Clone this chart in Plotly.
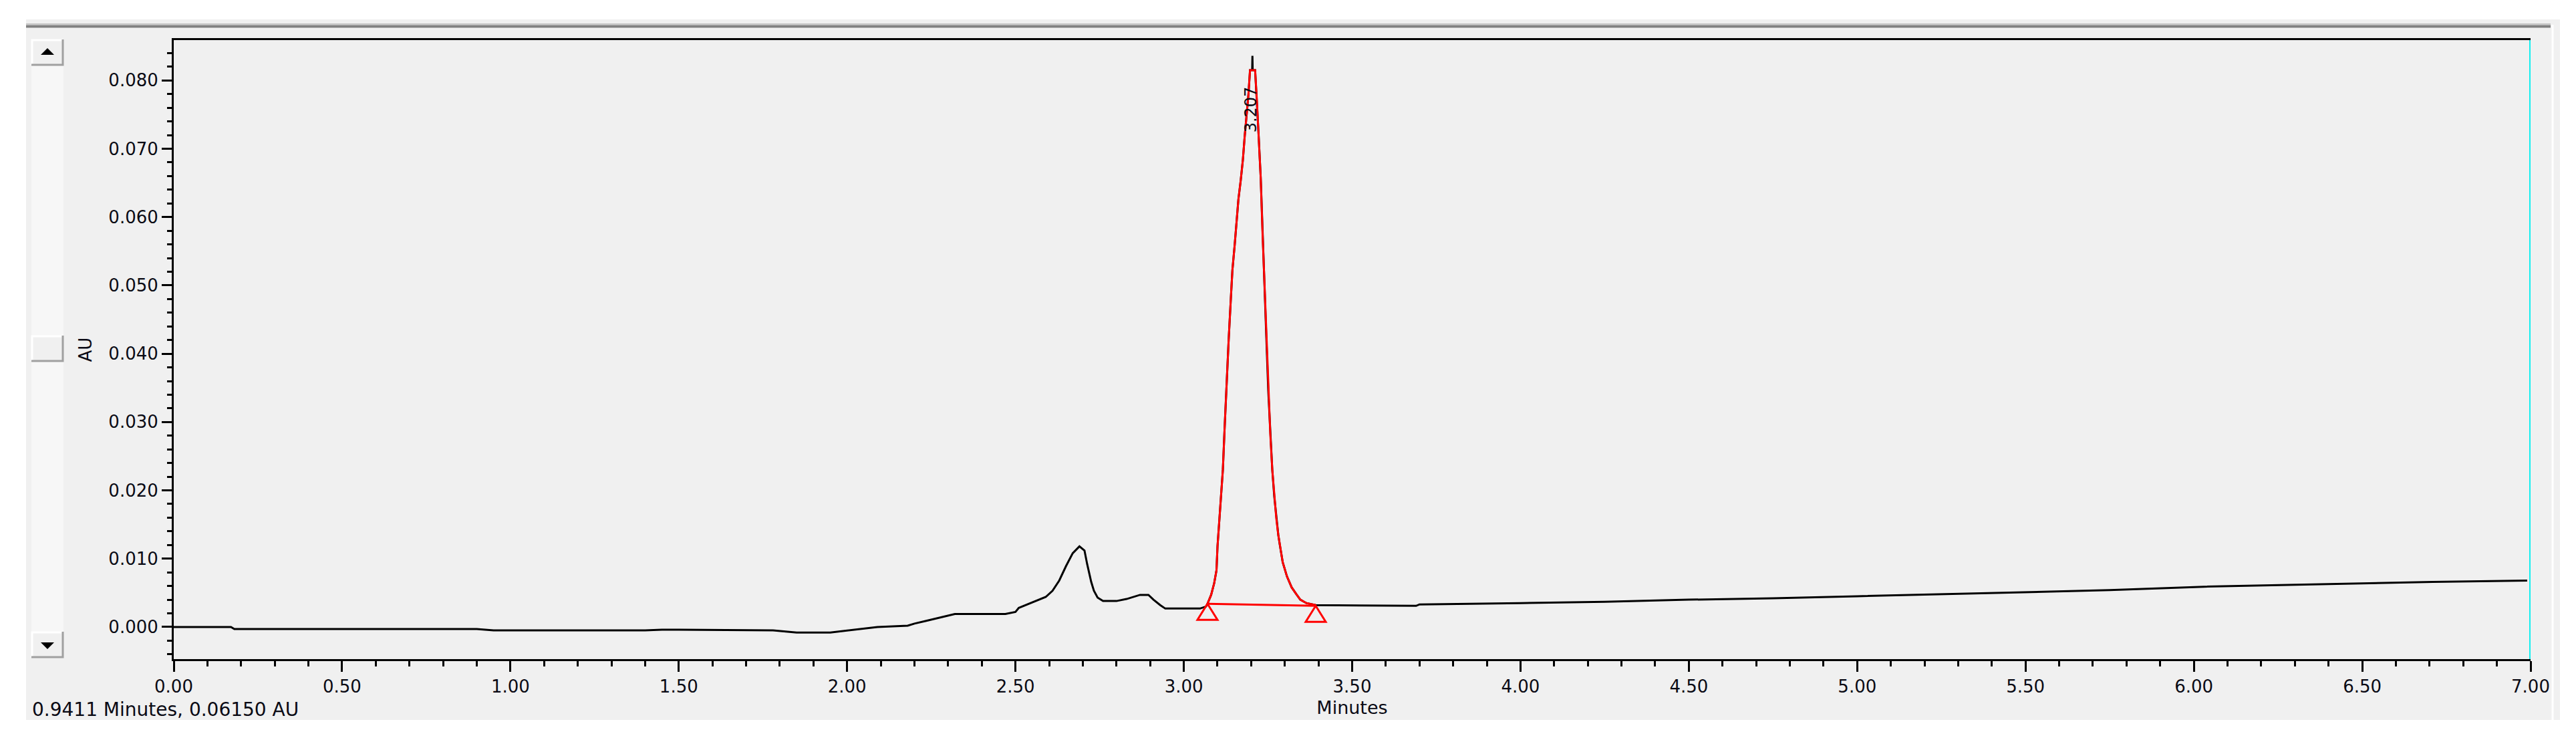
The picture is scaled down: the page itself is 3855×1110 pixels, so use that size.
import plotly.graph_objects as go

pre_peak_min = [0.00, 0.17, 0.18, 0.90, 0.95, 1.40, 1.45, 1.50, 1.78, 1.85, 1.95, 2.00,
                2.06, 2.09, 2.18, 2.20, 2.235, 2.26, 2.29, 2.32, 2.47, 2.50, 2.51, 2.54,
                2.56, 2.59, 2.61, 2.63, 2.65, 2.67, 2.69, 2.705, 2.713, 2.725, 2.733,
                2.744, 2.76, 2.80, 2.83, 2.87, 2.895, 2.91, 2.93, 2.945, 3.048, 3.066]
pre_peak_au = [0.0000, 0.0000, -0.0003, -0.0003, -0.0005, -0.0005, -0.0004, -0.0004,
               -0.0005, -0.0008, -0.0008, -0.0005, -0.0002, 0.0000, 0.0002, 0.0005,
               0.0009, 0.0012, 0.0016, 0.0019, 0.0019, 0.0022, 0.0028, 0.0034, 0.0038,
               0.0044, 0.0053, 0.0068, 0.0089, 0.0108, 0.0118, 0.0112, 0.0092, 0.0066,
               0.0053, 0.0043, 0.0038, 0.0038, 0.0041, 0.0047, 0.0047, 0.0040, 0.0032,
               0.0027, 0.0027, 0.0030]

# integrated peak (drawn red)
peak_min = [3.0703, 3.0812, 3.0902, 3.0971, 3.1001, 3.1041, 3.1094, 3.1160, 3.1213,
            3.1273, 3.1332, 3.1392, 3.1443, 3.1511, 3.1570, 3.1622, 3.1689, 3.1755,
            3.1808, 3.1868, 3.1919, 3.1967, 3.2118, 3.2165, 3.2217, 3.2284, 3.2336,
            3.2396, 3.2455, 3.2509, 3.2568, 3.2628, 3.2687, 3.2747, 3.2806, 3.2846,
            3.2937, 3.3064, 3.3203, 3.3342, 3.3461, 3.3640, 3.3868, 3.3918]
peak_au = [0.0034, 0.0047, 0.0064, 0.0083, 0.0118, 0.0144, 0.0181, 0.0230, 0.0292,
           0.0360, 0.0420, 0.0476, 0.0522, 0.0559, 0.0593, 0.0626, 0.0653, 0.0684,
           0.0718, 0.0749, 0.0779, 0.0815, 0.0815, 0.0775, 0.0725, 0.0658, 0.0580,
           0.0499, 0.0418, 0.0345, 0.0283, 0.0230, 0.0191, 0.0159, 0.0135, 0.0122,
           0.0095, 0.0074, 0.0058, 0.0048, 0.0040, 0.0035, 0.0033, 0.0032]

# raw detector tip poking out above the red peak
apex_min = [3.2030, 3.2038, 3.2046]
apex_au = [0.0815, 0.0836, 0.0815]

post_peak_min = [3.69, 3.70, 4.00, 4.25, 4.50, 4.75, 5.00, 5.25, 5.50, 5.75, 6.03,
                 6.23, 6.48, 6.71, 6.99]
post_peak_au = [0.0031, 0.0033, 0.0035, 0.0037, 0.0040, 0.0042, 0.0045, 0.0048,
                0.0051, 0.0054, 0.0059, 0.0061, 0.0064, 0.0066, 0.0068]

baseline_min = [3.0703, 3.3918]
baseline_au = [0.0034, 0.0031]

peak_label = "3.207"
peak_label_min = 3.207
cursor_min = 7.0
status_text = "0.9411 Minutes, 0.06150 AU"

FONT = "DejaVu Sans"
TXT = "#0a0a14"

# plot area in screen pixels, used to place the window chrome around it
PL, PR, PT, PB = 260, 3787, 60, 986


def fx(px):
    return (px - PL) / (PR - PL)


def fy(py):
    return (PB - py) / (PB - PT)


raw = sorted(zip(pre_peak_min + peak_min + apex_min + post_peak_min,
                 pre_peak_au + peak_au + apex_au + post_peak_au))
raw_min = [p[0] for p in raw]
raw_au = [p[1] for p in raw]

fig = go.Figure()
fig.add_trace(go.Scatter(x=raw_min, y=raw_au, mode="lines",
                         line=dict(color="black", width=3), hoverinfo="skip"))
fig.add_trace(go.Scatter(x=peak_min, y=peak_au, mode="lines",
                         line=dict(color="#ff0000", width=3), hoverinfo="skip"))
fig.add_trace(go.Scatter(x=baseline_min, y=baseline_au, mode="lines",
                         line=dict(color="#ff0000", width=3), hoverinfo="skip"))

shapes = []
# grey panel behind everything
shapes.append(dict(type="rect", xref="paper", yref="paper", layer="below",
                   x0=fx(39), x1=fx(3831), y0=fy(1077), y1=fy(29),
                   fillcolor="#f0f0f0", line=dict(width=0)))
# window separator on top and right
shapes.append(dict(type="line", xref="paper", yref="paper",
                   x0=fx(39), x1=fx(3817), y0=fy(36), y1=fy(36),
                   line=dict(color="#c4c4c4", width=2)))
shapes.append(dict(type="line", xref="paper", yref="paper",
                   x0=fx(39), x1=fx(3817), y0=fy(39.5), y1=fy(39.5),
                   line=dict(color="#808080", width=4)))
shapes.append(dict(type="line", xref="paper", yref="paper",
                   x0=fx(3820), x1=fx(3820), y0=fy(37), y1=fy(1077),
                   line=dict(color="white", width=3)))
# scrollbar track
shapes.append(dict(type="rect", xref="paper", yref="paper",
                   x0=fx(47), x1=fx(95), y0=fy(945), y1=fy(98),
                   fillcolor="#f7f7f7", line=dict(width=0)))
for top, bot in [(59, 98), (502, 541), (945, 984)]:
    shapes.append(dict(type="rect", xref="paper", yref="paper",
                       x0=fx(47), x1=fx(95), y0=fy(bot), y1=fy(top),
                       fillcolor="#f0f0f0", line=dict(width=0)))
    shapes.append(dict(type="path", xref="paper", yref="paper",
                       path=f"M{fx(48)},{fy(bot - 1)} L{fx(48)},{fy(top + 1)} L{fx(94)},{fy(top + 1)}",
                       line=dict(color="white", width=3)))
    shapes.append(dict(type="path", xref="paper", yref="paper",
                       path=f"M{fx(47)},{fy(bot - 1)} L{fx(94)},{fy(bot - 1)} L{fx(94)},{fy(top)}",
                       line=dict(color="#a0a0a0", width=3)))
shapes.append(dict(type="path", xref="paper", yref="paper",
                   path=f"M{fx(61)},{fy(82)} L{fx(81)},{fy(82)} L{fx(71)},{fy(72)} Z",
                   fillcolor="black", line=dict(width=0)))
shapes.append(dict(type="path", xref="paper", yref="paper",
                   path=f"M{fx(61)},{fy(961)} L{fx(81)},{fy(961)} L{fx(71)},{fy(971)} Z",
                   fillcolor="black", line=dict(width=0)))

# peak start / end markers hanging under the baseline
for t, v in zip(baseline_min, baseline_au):
    shapes.append(dict(type="path", xref="x", yref="y",
                       xsizemode="pixel", ysizemode="pixel", xanchor=t, yanchor=v,
                       path="M0,0 L-15,-24 L15,-24 Z",
                       line=dict(color="#ff0000", width=3)))

# cyan cursor at the right edge
shapes.append(dict(type="line", xref="x", yref="paper", x0=cursor_min, x1=cursor_min,
                   y0=0, y1=1, line=dict(color="#14f0f0", width=4)))

fig.update_layout(
    width=3855,
    height=1110,
    margin=dict(l=PL, r=3855 - PR, t=PT, b=1110 - PB, pad=0),
    paper_bgcolor="white",
    plot_bgcolor="#f0f0f0",
    showlegend=False,
    font=dict(family=FONT, size=26, color=TXT),
    shapes=shapes,
    annotations=[
        dict(x=peak_label_min, y=max(peak_au), xref="x", yref="y", text=peak_label,
             textangle=-90, showarrow=False, yanchor="top", xanchor="center",
             yshift=-22, xshift=-3, font=dict(family=FONT, size=24, color=TXT)),
        dict(x=fx(46), y=fy(1061), xref="paper", yref="paper", text=status_text,
             showarrow=False, xanchor="left", yanchor="middle",
             font=dict(family=FONT, size=28, color=TXT)),
    ],
)

fig.update_xaxes(
    range=[0, 7], tick0=0, dtick=0.5, tickformat=".2f",
    ticks="outside", ticklen=16, tickwidth=3, tickcolor="black",
    minor=dict(dtick=0.1, ticks="outside", ticklen=8, tickwidth=3,
               tickcolor="black", showgrid=False),
    showline=True, linecolor="black", linewidth=3, mirror=True,
    showgrid=False, zeroline=False,
    tickfont=dict(family=FONT, size=26, color=TXT),
    title=dict(text="Minutes", font=dict(family=FONT, size=27, color=TXT), standoff=8),
)
fig.update_yaxes(
    range=[-0.0047, 0.0859], tick0=0, dtick=0.01, tickformat=".3f",
    ticks="outside", ticklen=15, tickwidth=3, tickcolor="black",
    minor=dict(dtick=0.002, ticks="outside", ticklen=7, tickwidth=3,
               tickcolor="black", showgrid=False),
    showline=True, linecolor="black", linewidth=3, mirror=False,
    showgrid=False, zeroline=False,
    tickfont=dict(family=FONT, size=26, color=TXT),
    title=dict(text="AU", font=dict(family=FONT, size=26, color=TXT), standoff=18),
)

fig.write_html("out.html", config={"displayModeBar": False},
               post_script="document.body.style.margin='0px';")
